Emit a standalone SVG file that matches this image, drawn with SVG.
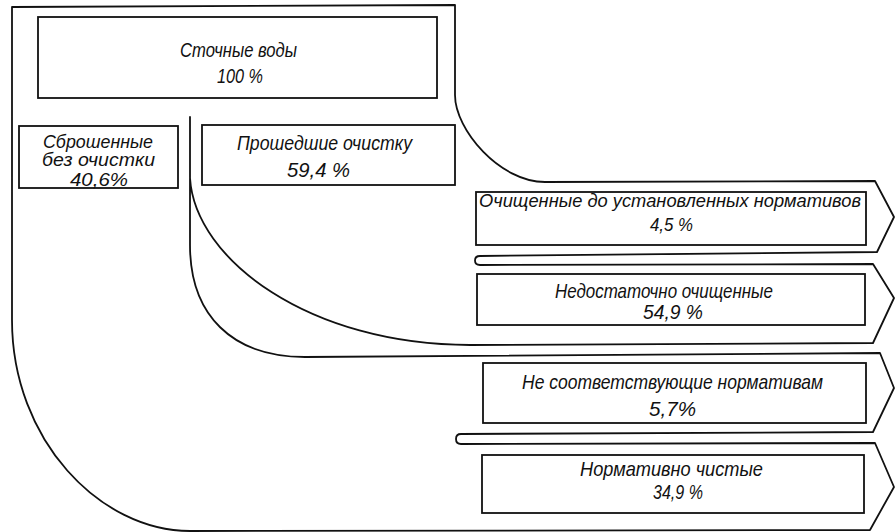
<svg xmlns="http://www.w3.org/2000/svg" width="896" height="532" viewBox="0 0 896 532">
<style>
.ln{fill:none;stroke:#111;stroke-width:1.8;stroke-linejoin:round;stroke-linecap:round}
.bx{fill:none;stroke:#111;stroke-width:1.8}
.t{font-family:"Liberation Sans","DejaVu Sans",sans-serif;font-style:italic;font-size:21px;fill:#111}
.s{font-size:18px}
</style>
<rect width="896" height="532" fill="#fff"/>
<g id="connectors">
<path class="ln" d="M190,117 L190,245 C190,315 232,357 305,357 L880,353 L894,388 L873,432 L461,434 Q456,434 456,439 Q456,444 461,444 L875,443 L894,487 L870,530 L190,531 C100,531 12,440 12,320 L12,7 L455,5 L455,95 C455,130 500,182 545,182 L875,181 L894,217 L877,252 L480,256 Q475,256 475,260.5 Q475,265 480,265 L873,264 L894,298 L873,343 L470,345 C310,345 195,260 190,178"/>
</g>
<g id="n-total">
<rect class="bx" x="38" y="17" width="399" height="81"/>
<text class="t" x="180" y="57" textLength="117" lengthAdjust="spacingAndGlyphs">Сточные воды</text>
<text class="t" x="217" y="83" textLength="46" lengthAdjust="spacingAndGlyphs">100 %</text>
</g>
<g id="n-untreated">
<rect class="bx" x="19" y="126" width="159" height="62"/>
<text class="t s" x="43" y="148" textLength="110" lengthAdjust="spacingAndGlyphs">Сброшенные</text>
<text class="t s" x="42" y="166" textLength="113" lengthAdjust="spacingAndGlyphs">без  очистки</text>
<text class="t s" x="70" y="186" textLength="58" lengthAdjust="spacingAndGlyphs">40,6%</text>
</g>
<g id="n-treated">
<rect class="bx" x="202" y="125" width="253" height="60"/>
<text class="t" x="237" y="150" textLength="175" lengthAdjust="spacingAndGlyphs">Прошедшие очистку</text>
<text class="t" x="287" y="177" textLength="63" lengthAdjust="spacingAndGlyphs">59,4 %</text>
</g>
<g id="n-norm">
<rect class="bx" x="476" y="192" width="390" height="53"/>
<text class="t" x="479" y="207" textLength="382" lengthAdjust="spacingAndGlyphs" style="font-size:18px">Очищенные до установленных нормативов</text>
<text class="t" x="650" y="231" textLength="43" lengthAdjust="spacingAndGlyphs" style="font-size:19px">4,5 %</text>
</g>
<g id="n-insufficient">
<rect class="bx" x="477" y="274" width="388" height="51"/>
<text class="t" x="555" y="298" textLength="218" lengthAdjust="spacingAndGlyphs">Недостаточно очищенные</text>
<text class="t" x="643" y="319" textLength="60" lengthAdjust="spacingAndGlyphs">54,9 %</text>
</g>
<g id="n-noncompliant">
<rect class="bx" x="483" y="363" width="383" height="60"/>
<text class="t" x="522" y="389" textLength="301" lengthAdjust="spacingAndGlyphs">Не соответствующие нормативам</text>
<text class="t" x="649" y="416" textLength="47" lengthAdjust="spacingAndGlyphs">5,7%</text>
</g>
<g id="n-clean">
<rect class="bx" x="482" y="455" width="382" height="58"/>
<text class="t" x="580" y="476" textLength="183" lengthAdjust="spacingAndGlyphs">Нормативно чистые</text>
<text class="t" x="653" y="499" textLength="50" lengthAdjust="spacingAndGlyphs">34,9 %</text>
</g>
</svg>
